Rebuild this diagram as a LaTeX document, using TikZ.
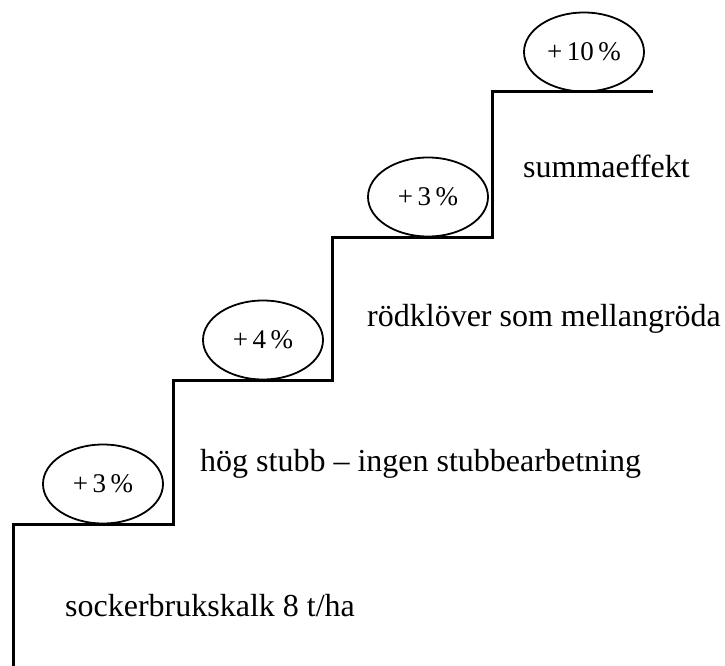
\documentclass[tikz,border=0pt]{standalone}
\usepackage{fontspec}
\setmainfont{Liberation Serif}
\usetikzlibrary{shapes.geometric}
\begin{document}
\begin{tikzpicture}[x=1pt,y=-1pt,
  stair/.style={line width=3pt,line join=miter},
  bubble/.style={draw,line width=1.8pt,ellipse,minimum width=120pt,minimum height=79pt,inner sep=0pt,font=\fontsize{27}{27}\selectfont},
  label/.style={anchor=base west,inner sep=0pt,font=\fontsize{32}{32}\selectfont}]
\useasboundingbox (0,0) rectangle (725,666);
\coordinate (s0) at (13,668);
\coordinate (s1) at (13,524);
\coordinate (s2) at (173,524);
\coordinate (s3) at (173,380);
\coordinate (s4) at (332,380);
\coordinate (s5) at (332,237);
\coordinate (s6) at (492,237);
\coordinate (s7) at (492,92);
\coordinate (s8) at (653,92);
\draw[stair] (s0) -- (s1) -- (s2) -- (s3) -- (s4) -- (s5) -- (s6) -- (s7) -- (s8);
\node[bubble] (e1) at (103,484) {+\hspace{0.17em}3\hspace{0.17em}\%};
\node[bubble] (e2) at (263,340) {+\hspace{0.17em}4\hspace{0.17em}\%};
\node[bubble] (e3) at (428,197) {+\hspace{0.17em}3\hspace{0.17em}\%};
\node[bubble] (e4) at (584,52) {+\hspace{0.17em}10\hspace{0.17em}\%};
\node[label] (t1) at (65,616) {sockerbrukskalk 8 t/ha};
\node[label] (t2) at (200,471) {hög stubb – ingen stubbearbetning};
\node[label] (t3) at (367,326) {rödklöver som mellangröda};
\node[label] (t4) at (523,177) {summaeffekt};
\end{tikzpicture}
\end{document}
